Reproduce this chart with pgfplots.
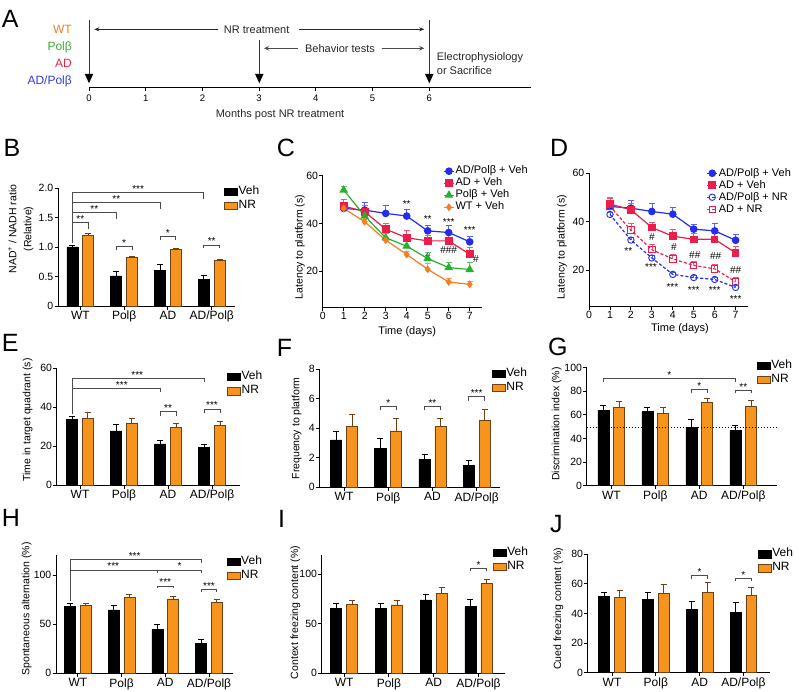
\documentclass[border=0pt]{standalone}
\usepackage{fontspec}
\setmainfont{Liberation Sans}
\usepackage{pgfplots}
\pgfplotsset{compat=1.18}
\usetikzlibrary{arrows.meta}
\newcommand{\fs}[1]{\fontsize{#1}{#1}\selectfont}
\definecolor{cOr}{RGB}{247,148,30}
\definecolor{cOrD}{RGB}{110,65,20}
\definecolor{cBl}{RGB}{35,45,235}
\definecolor{cRd}{RGB}{235,30,75}
\definecolor{cGr}{RGB}{40,175,45}
\definecolor{cWT}{RGB}{245,125,35}
\definecolor{lWT}{RGB}{240,125,40}
\definecolor{lPol}{RGB}{60,170,50}
\definecolor{lAD}{RGB}{232,35,70}
\definecolor{lADP}{RGB}{50,60,210}
\tikzset{brk/.style={draw=black!70, line width=0.8pt}, st/.style={anchor=base, inner sep=0pt, font=\fs{10}}}
\newcommand{\brk}[6]{\draw[brk] (axis cs:#1,#4) -- (axis cs:#1,#3) -- (axis cs:#2,#3) -- (axis cs:#2,#4); \node[st] at (axis cs:#5,#3) {#6};}
\pgfplotsset{
 base/.style={scale only axis, anchor=south west, axis lines=left,
   axis line style={-, line width=0.9pt, black},
   tick align=outside, major tick length=3.5pt,
   every tick/.style={line width=0.9pt, black},
   tick label style={font=\fs{10.5}},
   y tick label style={inner sep=1pt},
   x tick label style={inner sep=1.5pt},
   clip=false, /pgf/number format/assume math mode=true,
   legend style={draw=none, fill=none, inner sep=0pt, outer sep=0pt, anchor=west,
     nodes={inner sep=1pt, text height=0.75em, text depth=0.2em}},
   legend cell align=left},
 barax/.style={base, ybar, xtick={0,1,2,3}, xticklabels={WT,Polβ,AD,AD/Polβ},
   x tick label style={font=\fs{12}},
   legend image code/.code={\draw[##1] (0pt,-3.7pt) rectangle (13pt,3.7pt);},
   legend style={font=\fs{12}, row sep=2.6pt}},
 lineax/.style={base, xmin=0, xmax=7.6, xtick={0,...,7}, ymin=5, ymax=60, ytick={20,40,60},
   x tick label style={font=\fs{10.5}},
   legend image code/.code={\draw[mark repeat=2, mark phase=2, ##1] plot coordinates {(0pt,0pt) (5pt,0pt) (10pt,0pt)};},
   legend style={font=\fs{11}, row sep=0.5pt}},
 veh/.style={fill=black, draw=black, line width=0.6pt, bar width=0.25, bar shift=-0.18,
   error bars/y dir=plus, error bars/y explicit,
   error bars/error bar style={line width=0.9pt, black},
   error bars/error mark options={rotate=90, mark size=3pt, line width=0.9pt, black}},
 nr/.style={fill=cOr, draw=cOrD, line width=0.6pt, bar width=0.25, bar shift=0.18,
   error bars/y dir=plus, error bars/y explicit,
   error bars/error bar style={line width=0.9pt, cOrD},
   error bars/error mark options={rotate=90, mark size=3pt, line width=0.9pt, cOrD}},
 ser/.style={color=#1, line width=1.2pt, mark options={solid},
   error bars/y dir=plus, error bars/y explicit,
   error bars/error bar style={line width=0.7pt, solid, #1!75},
   error bars/error mark options={rotate=90, mark size=3pt, line width=0.7pt, solid, #1!75}},
}
\begin{document}
\begin{tikzpicture}
\useasboundingbox (0,0) rectangle (802pt,-692pt);
\begin{scope}[x=1pt,y=-1pt]
% panel letters
\foreach \l/\xx/\yy in {A/1.7/28, B/3.3/157, C/276.7/157, D/550/157, E/1.7/351.7, F/276.7/356.7, G/548/355, H/1.7/526, I/278/527, J/550/532}
  \node[anchor=base west, inner sep=0pt, font=\fs{25}] at (\xx,\yy) {\l};
% panel A
\node[anchor=base east, inner sep=0pt, font=\fs{12}, text=lWT] at (72,33.6) {WT};
\node[anchor=base east, inner sep=0pt, font=\fs{12}, text=lPol] at (72,51) {Polβ};
\node[anchor=base east, inner sep=0pt, font=\fs{12}, text=lAD] at (72,67.6) {AD};
\node[anchor=base east, inner sep=0pt, font=\fs{12}, text=lADP] at (72,85) {AD/Polβ};
\draw[line width=0.9pt, black!80] (89,20) -- (89,74);
\draw[line width=0.9pt, black!80] (259.3,40) -- (259.3,74);
\draw[line width=0.9pt, black!80] (429.3,20) -- (429.3,74);
\foreach \xx in {89,259.3,429.3} \fill (\xx-4.2,74) -- (\xx+4.2,74) -- (\xx,83.3) -- cycle;
\draw[line width=0.8pt, black!85, {Stealth[length=5pt,width=4pt]}-] (94.3,29.3) -- (218,29.3);
\node[font=\fs{11}, black!85] at (256.7,29.3) {NR treatment};
\draw[line width=0.8pt, black!85, -{Stealth[length=5pt,width=4pt]}] (299.3,29.3) -- (424.3,29.3);
\draw[line width=1.3pt, black!70, {Stealth[length=5pt,width=4.5pt]}-] (264,48.3) -- (298.3,48.3);
\node[font=\fs{11}, black!85] at (340,48.3) {Behavior tests};
\draw[line width=1.3pt, black!70, -{Stealth[length=5pt,width=4.5pt]}] (381.7,48.3) -- (424.3,48.3);
\node[anchor=base west, inner sep=0pt, font=\fs{11}, black!85] at (436.7,61) {Electrophysiology};
\node[anchor=base west, inner sep=0pt, font=\fs{11}, black!85] at (436.7,74.5) {or Sacrifice};
\node[font=\fs{11}, black!85] at (280,115) {Months post NR treatment};
% axis labels
\node[rotate=90, align=center, font=\fontsize{10.5}{15}\selectfont] at (20.8,229) {NAD\textsuperscript{+} / NADH ratio\\(Relative)};
\node[rotate=90, font=\fs{10.5}] at (300,247) {Latency to platform (s)};
\node[rotate=90, font=\fs{10.5}] at (562,247) {Latency to platform (s)};
\node[font=\fs{11}] at (407.3,332) {Time (days)};
\node[font=\fs{11}] at (680,329) {Time (days)};
\node[rotate=90, font=\fs{10.5}] at (27.7,420) {Time in target quadrant (s)};
\node[rotate=90, font=\fs{10.5}] at (296.7,428.3) {Frequency to platform};
\node[rotate=90, font=\fs{10.5}] at (556.7,424) {Discrimination index (\%)};
\node[rotate=90, font=\fs{10.5}] at (26.7,609) {Spontaneous alternation (\%)};
\node[rotate=90, font=\fs{10.5}] at (295.5,612.5) {Context freezing content (\%)};
\node[rotate=90, font=\fs{10.5}] at (558.3,609) {Cued freezing content (\%)};
\end{scope}

% ---------- A timeline axis
\begin{axis}[scale only axis, anchor=south west, at={(89pt,-87.3pt)}, width=442.3pt, height=40pt,
  xmin=0, xmax=7.8, ymin=0, ymax=1, axis x line=bottom, axis y line=none,
  axis line style={-, line width=1.2pt}, xtick={0,...,6}, tick align=outside, major tick length=4pt,
  every tick/.style={line width=0.9pt, black}, tick label style={font=\fs{9.5}},
  /pgf/number format/assume math mode=true]
\addplot[draw=none, forget plot] coordinates {(0,0) (7.8,0)};
\end{axis}

% ---------- B
\begin{axis}[barax, at={(58pt,-306pt)}, width=176.5pt, height=118pt, xmin=-0.51, xmax=3.52, ymin=0, ymax=2,
  ytick={0,0.5,1,1.5,2}, yticklabels={0,0.5,1.0,1.5,2.0}, legend style={at={(0.9405,0.907)}}]
\addplot[veh] coordinates {(0,1.00) +- (0,0.02) (1,0.51) +- (0,0.08) (2,0.61) +- (0,0.10) (3,0.45) +- (0,0.06)};
\addplot[nr] coordinates {(0,1.20) +- (0,0.03) (1,0.82) +- (0,0.02) (2,0.96) +- (0,0.02) (3,0.77) +- (0,0.015)};
\legend{Veh,NR}
\draw[brk] (axis cs:-0.18,1.07) -- (axis cs:-0.18,1.92) -- (axis cs:2.82,1.92) -- (axis cs:2.82,1.82);
\draw[brk] (axis cs:-0.18,1.75) -- (axis cs:1.82,1.75) -- (axis cs:1.82,1.65);
\draw[brk] (axis cs:-0.18,1.58) -- (axis cs:0.82,1.58) -- (axis cs:0.82,1.48);
\draw[brk] (axis cs:-0.18,1.41) -- (axis cs:0.18,1.41) -- (axis cs:0.18,1.31);
\node[st] at (axis cs:1.32,1.92) {***};
\node[st] at (axis cs:0.82,1.75) {**};
\node[st] at (axis cs:0.32,1.58) {**};
\node[st] at (axis cs:0,1.41) {**};
\brk{0.82}{1.18}{1.006}{0.95}{1}{*}
\brk{1.82}{2.18}{1.175}{1.12}{2}{*}
\brk{2.82}{3.18}{1.034}{0.98}{3}{**}
\end{axis}

% ---------- C
\begin{axis}[lineax, at={(322.7pt,-307pt)}, width=159.6pt, height=131.3pt, legend style={at={(0.756,0.897)}}]
\addplot[ser=cBl, mark=*, mark size=3.2pt] coordinates {(1,46.3) +- (0,2.0) (2,45.6) +- (0,3.1) (3,44.2) +- (0,3.2) (4,43.1) +- (0,2.9) (5,36.9) +- (0,2.1) (6,36.2) +- (0,3.2) (7,32.3) +- (0,2.5)};
\addlegendentry{AD/Polβ + Veh}
\addplot[ser=cRd, mark=square*, mark size=3.2pt] coordinates {(1,47.3) +- (0,2.9) (2,44.9) +- (0,2.8) (3,37.6) +- (0,2.3) (4,34.0) +- (0,2.9) (5,32.7) +- (0,2.5) (6,32.7) +- (0,2.6) (7,27.1) +- (0,2.8)};
\addlegendentry{AD + Veh}
\addplot[ser=cGr, mark=triangle*, mark size=3.8pt] coordinates {(1,54.0) +- (0,1.7) (2,43.1) +- (0,2.0) (3,34.0) +- (0,1.8) (4,30.5) +- (0,1.8) (5,25.3) +- (0,2.8) (6,21.5) +- (0,2.2) (7,20.7) +- (0,3.1)};
\addlegendentry{Polβ + Veh}
\addplot[ser=cWT, mark=diamond*, mark size=3pt] coordinates {(1,46.3) +- (0,1.5) (2,40.7) +- (0,1.2) (3,33.0) +- (0,1.2) (4,27.0) +- (0,1.2) (5,20.8) +- (0,2.4) (6,15.5) +- (0,1.4) (7,14.5) +- (0,1.4)};
\addlegendentry{WT + Veh}
\node[st] at (axis cs:4,46.8) {**};
\node[st] at (axis cs:5,40.2) {**};
\node[st] at (axis cs:6,39.1) {***};
\node[st] at (axis cs:7,35.6) {***};
\node[st] at (axis cs:5,24.5) {\#};
\node[st] at (axis cs:6,27.3) {\#\#\#};
\node[st] at (axis cs:7.3,23.8) {\#};
\end{axis}

% ---------- D
\begin{axis}[lineax, at={(589pt,-306.3pt)}, width=159.2pt, height=133pt, legend style={at={(0.739,0.865)}}]
\addplot[ser=cBl, mark=*, mark size=3.2pt] coordinates {(1,46.3) +- (0,2.0) (2,45.6) +- (0,3.1) (3,44.2) +- (0,3.2) (4,43.1) +- (0,2.9) (5,36.9) +- (0,2.1) (6,36.2) +- (0,3.2) (7,32.3) +- (0,2.5)};
\addlegendentry{AD/Polβ + Veh}
\addplot[ser=cRd, mark=square*, mark size=3.2pt] coordinates {(1,47.3) +- (0,2.9) (2,44.9) +- (0,2.8) (3,37.6) +- (0,2.3) (4,34.0) +- (0,2.9) (5,32.7) +- (0,2.5) (6,32.7) +- (0,2.6) (7,27.1) +- (0,2.8)};
\addlegendentry{AD + Veh}
\addplot[ser=cBl, dash pattern=on 3pt off 2pt, mark=o, mark size=3.2pt, mark options={solid, line width=0.9pt}] coordinates {(1,43.0) +- (0,1.0) (2,32.4) +- (0,1.2) (3,25.0) +- (0,1.2) (4,18.2) +- (0,1.0) (5,16.9) +- (0,1.0) (6,16.1) +- (0,1.0) (7,12.8) +- (0,0.8)};
\addlegendentry{AD/Polβ + NR}
\addplot[ser=cRd, dash pattern=on 3pt off 2pt, mark=square, mark size=3.2pt, mark options={solid, line width=0.9pt}] coordinates {(1,46.4) +- (0,3.2) (2,36.5) +- (0,2.8) (3,28.4) +- (0,2.3) (4,24.6) +- (0,1.8) (5,21.9) +- (0,1.8) (6,20.5) +- (0,2.0) (7,15.1) +- (0,2.0)};
\addlegendentry{AD + NR}
\node[st] at (axis cs:1.88,26.4) {**};
\node[st] at (axis cs:2.96,19.6) {***};
\node[st] at (axis cs:3.98,11.4) {***};
\node[st] at (axis cs:5.0,10.5) {***};
\node[st] at (axis cs:6.0,10.1) {***};
\node[st] at (axis cs:7.0,6.7) {***};
\node[st] at (axis cs:3.0,32.2) {\#};
\node[st] at (axis cs:4.05,27.9) {\#};
\node[st] at (axis cs:5.05,24.9) {\#\#};
\node[st] at (axis cs:6.05,24.5) {\#\#};
\node[st] at (axis cs:7.0,18.4) {\#\#};
\end{axis}

% ---------- E
\begin{axis}[barax, at={(56.7pt,-485pt)}, width=183.5pt, height=116.7pt, xmin=-0.53, xmax=3.64, ymin=0, ymax=60,
  ytick={0,20,40,60}, legend style={at={(0.928,0.865)}}]
\addplot[veh] coordinates {(0,33.8) +- (0,1.7) (1,27.8) +- (0,3.1) (2,21.1) +- (0,2.0) (3,19.2) +- (0,1.7)};
\addplot[nr] coordinates {(0,34.3) +- (0,2.9) (1,31.7) +- (0,2.6) (2,29.5) +- (0,2.2) (3,30.5) +- (0,2.4)};
\legend{Veh,NR}
\draw[brk] (axis cs:-0.18,36.5) -- (axis cs:-0.18,54.9) -- (axis cs:2.82,54.9) -- (axis cs:2.82,53.1);
\draw[brk] (axis cs:-0.18,49.7) -- (axis cs:1.82,49.7) -- (axis cs:1.82,47.9);
\node[st] at (axis cs:1.3,54.9) {***};
\node[st] at (axis cs:0.95,49.7) {***};
\brk{1.82}{2.18}{37.7}{35.5}{2}{**}
\brk{2.82}{3.18}{39.1}{36.9}{3}{***}
\end{axis}

% ---------- F
\begin{axis}[barax, at={(319.3pt,-487.3pt)}, width=180.8pt, height=118pt, xmin=-0.56, xmax=3.53, ymin=0, ymax=8,
  ytick={0,2,4,6,8}, legend style={at={(0.954,0.902)}}]
\addplot[veh] coordinates {(0,3.21) +- (0,0.56) (1,2.64) +- (0,0.68) (2,1.90) +- (0,0.36) (3,1.47) +- (0,0.34)};
\addplot[nr] coordinates {(0,4.11) +- (0,0.86) (1,3.82) +- (0,0.86) (2,4.11) +- (0,0.55) (3,4.56) +- (0,0.72)};
\legend{Veh,NR}
\brk{0.82}{1.18}{5.47}{5.24}{1}{*}
\brk{1.82}{2.18}{5.47}{5.24}{2}{**}
\brk{2.82}{3.18}{6.15}{5.88}{3}{***}
\end{axis}

% ---------- G
\begin{axis}[barax, at={(586.7pt,-485.7pt)}, width=190pt, height=118pt, xmin=-0.56, xmax=3.76, ymin=0, ymax=100,
  ytick={0,20,...,100}, legend style={at={(0.895,0.958)}}]
\addplot[veh] coordinates {(0,64.1) +- (0,3.7) (1,62.7) +- (0,3.7) (2,49.4) +- (0,6.8) (3,46.6) +- (0,4.2)};
\addplot[nr] coordinates {(0,66.1) +- (0,5.1) (1,61.3) +- (0,4.8) (2,70.3) +- (0,3.7) (3,67.5) +- (0,5.1)};
\legend{Veh,NR}
\draw[black, line width=0.8pt, dash pattern=on 1.5pt off 1.5pt] (axis cs:-0.56,49.5) -- (axis cs:3.76,49.5);
\brk{-0.18}{2.82}{91.0}{88.1}{1.32}{*}
\brk{1.82}{2.18}{81.6}{78.2}{2}{*}
\brk{2.82}{3.18}{81.1}{78.2}{3}{**}
\end{axis}

% ---------- H
\begin{axis}[barax, at={(56pt,-673.3pt)}, width=177pt, height=118pt, xmin=-0.5, xmax=3.55, ymin=0, ymax=120,
  ytick={0,50,100}, legend style={at={(0.964,0.885)}}]
\addplot[veh] coordinates {(0,67.8) +- (0,3.4) (1,64.4) +- (0,4.1) (2,44.7) +- (0,4.5) (3,30.5) +- (0,4.1)};
\addplot[nr] coordinates {(0,68.8) +- (0,2.4) (1,77.3) +- (0,3.0) (2,75.6) +- (0,2.4) (3,72.5) +- (0,2.8)};
\legend{Veh,NR}
\draw[brk] (axis cs:-0.18,73.5) -- (axis cs:-0.18,115.9) -- (axis cs:2.82,115.9) -- (axis cs:2.82,112.5);
\draw[brk] (axis cs:-0.18,105.1) -- (axis cs:2.82,105.1) -- (axis cs:2.82,102.4);
\draw[brk] (axis cs:1.82,105.1) -- (axis cs:1.82,102.4);
\node[st] at (axis cs:1.3,115.9) {***};
\node[st] at (axis cs:0.81,105.1) {***};
\node[st] at (axis cs:2.33,105.1) {*};
\brk{1.82}{2.18}{88.8}{86.4}{2}{***}
\brk{2.82}{3.18}{85.4}{83}{3}{***}
\end{axis}

% ---------- I
\begin{axis}[barax, at={(321.7pt,-673.3pt)}, width=183.7pt, height=118.8pt, xmin=-0.5, xmax=3.6, ymin=0, ymax=120,
  ytick={0,50,100}, legend style={at={(0.931,0.954)}}]
\addplot[veh] coordinates {(0,65.7) +- (0,5.0) (1,65.7) +- (0,5.0) (2,74.1) +- (0,6.0) (3,67.3) +- (0,7.4)};
\addplot[nr] coordinates {(0,70.0) +- (0,4.0) (1,69.0) +- (0,4.4) (2,80.8) +- (0,6.0) (3,90.9) +- (0,3.4)};
\legend{Veh,NR}
\brk{2.82}{3.18}{106.1}{103.4}{3}{*}
\end{axis}

% ---------- J
\begin{axis}[barax, at={(587.7pt,-672.7pt)}, width=182pt, height=118.4pt, xmin=-0.555, xmax=3.6, ymin=0, ymax=80,
  ytick={0,20,...,80}, legend style={at={(0.934,0.942)}}]
\addplot[veh] coordinates {(0,51.4) +- (0,2.9) (1,49.6) +- (0,4.5) (2,42.8) +- (0,5.6) (3,40.8) +- (0,6.8)};
\addplot[nr] coordinates {(0,50.7) +- (0,5.2) (1,53.6) +- (0,6.1) (2,54.3) +- (0,6.5) (3,52.5) +- (0,5.2)};
\legend{Veh,NR}
\brk{1.82}{2.18}{65.6}{63.3}{2}{*}
\brk{2.82}{3.18}{63.8}{62}{3}{*}
\end{axis}
\end{tikzpicture}
\end{document}
